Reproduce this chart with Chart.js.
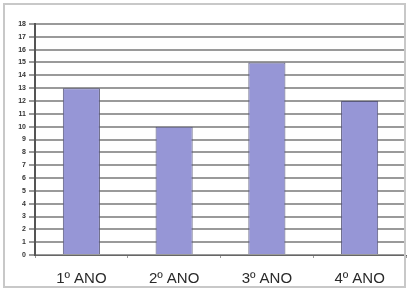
<!DOCTYPE html>
<html>
<head>
<meta charset="utf-8">
<script src="https://cdn.jsdelivr.net/npm/chart.js@4.4.0/dist/chart.umd.min.js"></script>
<style>
  html, body { margin: 0; padding: 0; background: #fff; }
  #wrap { position: relative; width: 409px; height: 291px; }
  #frame { position: absolute; left: 3px; top: 3px; width: 403px; height: 285px; border: 2px solid #c8c8c8; box-sizing: border-box; pointer-events: none; }
</style>
</head>
<body>
<div id="wrap">
  <canvas id="chart" width="409" height="291"></canvas>
  <div id="frame"></div>
</div>
<script>
const categories = ["1º ANO", "2º ANO", "3º ANO", "4º ANO"]
const values = [13, 10, 15, 12]
const yMax = 18

const chart = new Chart(document.getElementById("chart"), {
  type: "bar",
  data: {
    labels: categories,
    datasets: [{
      data: values,
      backgroundColor: "#9696d6",
      borderColor: "#5a5a7a",
      borderWidth: 1,
      categoryPercentage: 0.8,
      barPercentage: 0.5
    }]
  },
  options: {
    responsive: false,
    animation: false,
    layout: { padding: { left: 0, right: 3, top: 24, bottom: 0 } },
    plugins: { legend: { display: false }, tooltip: { enabled: false } },
    scales: {
      x: {
        grid: { display: true, drawOnChartArea: false, offset: true, tickLength: 3, color: "#999" },
        border: { color: "#666", width: 1 },
        ticks: { color: "#2a2a2a", font: { family: "Liberation Sans, Arial", size: 15 }, padding: 12 },
        afterFit: s => { s.height = 36 }
      },
      y: {
        min: 0,
        max: yMax,
        ticks: { stepSize: 1, color: "#333", font: { family: "Liberation Sans, Arial", size: 7, weight: "bold" }, padding: 3 },
        grid: { color: "#9a9a9a", lineWidth: 2, tickLength: 6 },
        border: { color: "#555", width: 2 },
        afterFit: s => { s.width = 35 }
      }
    }
  }
})
</script>
</body>
</html>
